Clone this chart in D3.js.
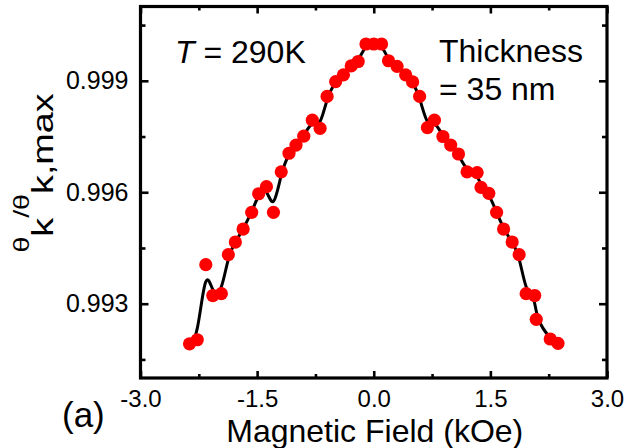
<!DOCTYPE html>
<html>
<head>
<meta charset="utf-8">
<script src="https://cdn.jsdelivr.net/npm/d3@7"></script>
<style>
  html, body { margin: 0; padding: 0; background: #fff; }
  svg { display: block; }
  text { font-family: "Liberation Sans", Arial, sans-serif; fill: #000; }
</style>
</head>
<body>
<svg id="chart" width="626" height="448"></svg>
<script>
// ---- data ----
const fieldKOe = [-2.37,-2.27,-2.16,-2.07,-1.96,-1.87,-1.78,-1.68,-1.57,-1.48,-1.38,-1.29,-1.19,-1.09,-1.00,-0.90,-0.79,-0.69,-0.60,-0.49,-0.39,-0.29,-0.20,-0.10,
                  0.00,0.10,0.19,0.30,0.41,0.50,0.59,0.69,0.78,0.89,0.99,1.09,1.20,1.33,1.38,1.48,1.58,1.67,1.78,1.87,1.96,2.07,2.09,2.27,2.37];
const kerrRatio = [0.99192,0.99203,0.99405,0.99322,0.99327,0.99432,0.99466,0.99501,0.99546,0.99596,0.99615,0.99546,0.99655,0.99705,0.99727,0.99751,0.99794,0.99772,0.99858,0.99898,0.99916,0.99940,0.99952,0.99999,
                   0.99999,0.99999,0.99954,0.99939,0.99916,0.99897,0.99858,0.99774,0.99794,0.99750,0.99727,0.99703,0.99655,0.99653,0.99613,0.99597,0.99546,0.99501,0.99466,0.99432,0.99327,0.99322,0.99258,0.99205,0.99193];
const xMajorTicks = [-3.0, -1.5, 0.0, 1.5, 3.0];
const xMinorTicks = [-2.25, -0.75, 0.75, 2.25];
const yMajorTicks = [0.993, 0.996, 0.999];
const yMinorTicks = [0.9915, 0.9945, 0.9975, 1.0005];
const xDomain = [-3, 3];
const yDomain = [0.991, 1.001];

// ---- layout ----
const L = 140.5, R = 607, T = 6.5, B = 378;
const svg = d3.select("#chart");
const x = d3.scaleLinear().domain(xDomain).range([L, R]);
const y = d3.scaleLinear().domain(yDomain).range([B, T]);

const pts = fieldKOe.map((f, i) => ({ f, v: kerrRatio[i] }));

// smooth line
svg.append("path")
  .datum(pts)
  .attr("fill", "none")
  .attr("stroke", "#000")
  .attr("stroke-width", 3)
  .attr("d", d3.line().x(d => x(d.f)).y(d => y(d.v)).curve(d3.curveBasis));

// points
svg.append("g").selectAll("circle")
  .data(pts).join("circle")
  .attr("cx", d => x(d.f)).attr("cy", d => y(d.v))
  .attr("r", 6.6).attr("fill", "#ff0000");

// axes (ticks inward)
function styleAxis(g) {
  g.select(".domain").remove();
  g.selectAll(".tick line").attr("stroke", "#000").attr("stroke-width", 2.6);
  g.selectAll("text").attr("font-size", 24).attr("fill", "#000")
    .attr("font-family", '"Liberation Sans", Arial, sans-serif');
}
const fmtX = d => d3.format(".1f")(d).replace("\u2212", "-");
svg.append("g").attr("transform", `translate(0,${B})`)
  .call(d3.axisBottom(x).tickValues(xMajorTicks).tickSize(-7).tickPadding(12).tickFormat(fmtX)).call(styleAxis);
svg.append("g").attr("transform", `translate(0,${B})`)
  .call(d3.axisBottom(x).tickValues(xMinorTicks).tickSize(-4).tickFormat("")).call(styleAxis);
svg.append("g").attr("transform", `translate(0,${T})`)
  .call(d3.axisTop(x).tickValues(xMajorTicks).tickSize(-7).tickFormat("")).call(styleAxis);
svg.append("g").attr("transform", `translate(0,${T})`)
  .call(d3.axisTop(x).tickValues(xMinorTicks).tickSize(-4).tickFormat("")).call(styleAxis);

svg.append("g").attr("transform", `translate(${L},0)`)
  .call(d3.axisLeft(y).tickValues(yMajorTicks).tickSize(-8).tickPadding(12).tickFormat(d3.format(".3f"))).call(styleAxis)
  .selectAll("text").attr("font-size", 25);
svg.append("g").attr("transform", `translate(${L},0)`)
  .call(d3.axisLeft(y).tickValues(yMinorTicks).tickSize(-5).tickFormat("")).call(styleAxis);
svg.append("g").attr("transform", `translate(${R},0)`)
  .call(d3.axisRight(y).tickValues(yMajorTicks).tickSize(-8).tickFormat("")).call(styleAxis);
svg.append("g").attr("transform", `translate(${R},0)`)
  .call(d3.axisRight(y).tickValues(yMinorTicks).tickSize(-5).tickFormat("")).call(styleAxis);

// frame
svg.append("rect").attr("x", L).attr("y", T).attr("width", R - L).attr("height", B - T)
  .attr("fill", "none").attr("stroke", "#000").attr("stroke-width", 3.2);

// axis titles
svg.append("text").attr("x", (L + R) / 2 + 1).attr("y", 442).attr("text-anchor", "middle")
  .attr("font-size", 32).text("Magnetic Field (kOe)");

const yt = svg.append("text")
  .attr("transform", "translate(29,173) rotate(-90) scale(1.3,1)")
  .attr("text-anchor", "middle");
yt.append("tspan").attr("font-size", 22).text("θ");
yt.append("tspan").attr("font-size", 29).attr("dy", 24).text("k");
yt.append("tspan").attr("font-size", 22).attr("dy", -24).text("/θ");
yt.append("tspan").attr("font-size", 29).attr("dy", 24).text("k,max");

// annotations
const ta = svg.append("text").attr("x", 175).attr("y", 63).attr("font-size", 32);
ta.append("tspan").attr("font-style", "italic").text("T");
ta.append("tspan").text(" = 290K");
svg.append("text").attr("x", 439).attr("y", 62).attr("font-size", 32).text("Thickness");
svg.append("text").attr("x", 439).attr("y", 100).attr("font-size", 32).text("= 35 nm");
svg.append("text").attr("x", 62).attr("y", 427).attr("font-size", 35)
  .attr("font-family", '"Liberation Serif", "Times New Roman", serif').text("(a)");
</script>
</body>
</html>
